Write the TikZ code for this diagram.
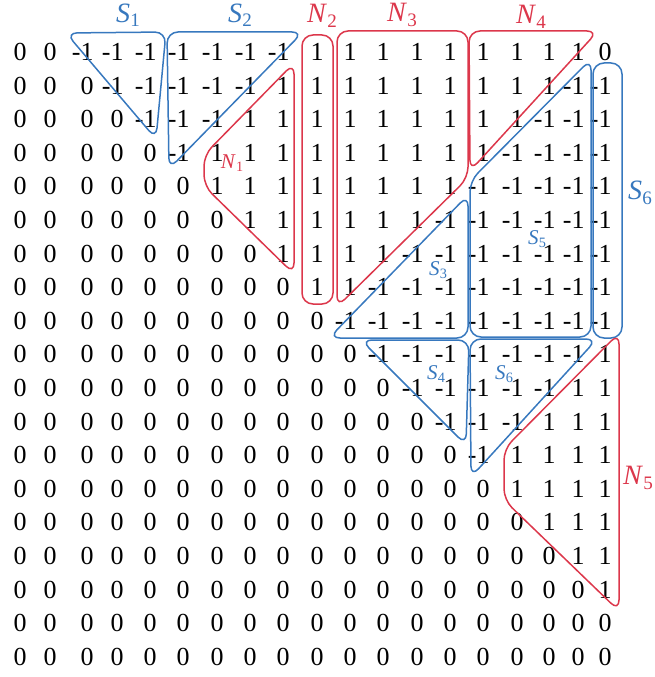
\documentclass[tikz,border=0pt]{standalone}
\usepackage{fontspec}
\setmainfont{Liberation Serif}
\definecolor{myblue}{RGB}{55,120,190}
\definecolor{myred}{RGB}{220,55,75}
\newcommand\mZ{0}
\newcommand\mM{\llap{-}1}
\newcommand\mP{1}
\newcommand\lab[2]{\textit{#1}\kern0.3pt\raisebox{-0.35ex}{\scalebox{0.68}{#2}}}
\begin{document}
\begin{tikzpicture}[x=1pt,y=-1pt,
  entry/.style={font=\fontsize{26}{30}\selectfont, inner sep=0pt, anchor=center},
  bluereg/.style={draw=myblue, line width=1.5pt, rounded corners=11pt},
  redreg/.style={draw=myred, line width=1.5pt, rounded corners=11pt},
  toplab/.style={font=\fontsize{28}{30}\selectfont, inner sep=0pt},
  inlab/.style={font=\fontsize{21}{24}\selectfont, inner sep=0pt}]
\useasboundingbox (0,0) rectangle (654,677);
\foreach \vals [count=\r] in {
 {\mZ,\mZ,\mM,\mM,\mM,\mM,\mM,\mM,\mM,\mP,\mP,\mP,\mP,\mP,\mP,\mP,\mP,\mP,\mZ},
 {\mZ,\mZ,\mZ,\mM,\mM,\mM,\mM,\mM,\mP,\mP,\mP,\mP,\mP,\mP,\mP,\mP,\mP,\mM,\mM},
 {\mZ,\mZ,\mZ,\mZ,\mM,\mM,\mM,\mP,\mP,\mP,\mP,\mP,\mP,\mP,\mP,\mP,\mM,\mM,\mM},
 {\mZ,\mZ,\mZ,\mZ,\mZ,\mM,\mP,\mP,\mP,\mP,\mP,\mP,\mP,\mP,\mP,\mM,\mM,\mM,\mM},
 {\mZ,\mZ,\mZ,\mZ,\mZ,\mZ,\mP,\mP,\mP,\mP,\mP,\mP,\mP,\mP,\mM,\mM,\mM,\mM,\mM},
 {\mZ,\mZ,\mZ,\mZ,\mZ,\mZ,\mZ,\mP,\mP,\mP,\mP,\mP,\mP,\mM,\mM,\mM,\mM,\mM,\mM},
 {\mZ,\mZ,\mZ,\mZ,\mZ,\mZ,\mZ,\mZ,\mP,\mP,\mP,\mP,\mM,\mM,\mM,\mM,\mM,\mM,\mM},
 {\mZ,\mZ,\mZ,\mZ,\mZ,\mZ,\mZ,\mZ,\mZ,\mP,\mP,\mM,\mM,\mM,\mM,\mM,\mM,\mM,\mM},
 {\mZ,\mZ,\mZ,\mZ,\mZ,\mZ,\mZ,\mZ,\mZ,\mZ,\mM,\mM,\mM,\mM,\mM,\mM,\mM,\mM,\mM},
 {\mZ,\mZ,\mZ,\mZ,\mZ,\mZ,\mZ,\mZ,\mZ,\mZ,\mZ,\mM,\mM,\mM,\mM,\mM,\mM,\mM,\mP},
 {\mZ,\mZ,\mZ,\mZ,\mZ,\mZ,\mZ,\mZ,\mZ,\mZ,\mZ,\mZ,\mM,\mM,\mM,\mM,\mM,\mP,\mP},
 {\mZ,\mZ,\mZ,\mZ,\mZ,\mZ,\mZ,\mZ,\mZ,\mZ,\mZ,\mZ,\mZ,\mM,\mM,\mM,\mP,\mP,\mP},
 {\mZ,\mZ,\mZ,\mZ,\mZ,\mZ,\mZ,\mZ,\mZ,\mZ,\mZ,\mZ,\mZ,\mZ,\mM,\mP,\mP,\mP,\mP},
 {\mZ,\mZ,\mZ,\mZ,\mZ,\mZ,\mZ,\mZ,\mZ,\mZ,\mZ,\mZ,\mZ,\mZ,\mZ,\mP,\mP,\mP,\mP},
 {\mZ,\mZ,\mZ,\mZ,\mZ,\mZ,\mZ,\mZ,\mZ,\mZ,\mZ,\mZ,\mZ,\mZ,\mZ,\mZ,\mP,\mP,\mP},
 {\mZ,\mZ,\mZ,\mZ,\mZ,\mZ,\mZ,\mZ,\mZ,\mZ,\mZ,\mZ,\mZ,\mZ,\mZ,\mZ,\mZ,\mP,\mP},
 {\mZ,\mZ,\mZ,\mZ,\mZ,\mZ,\mZ,\mZ,\mZ,\mZ,\mZ,\mZ,\mZ,\mZ,\mZ,\mZ,\mZ,\mZ,\mP},
 {\mZ,\mZ,\mZ,\mZ,\mZ,\mZ,\mZ,\mZ,\mZ,\mZ,\mZ,\mZ,\mZ,\mZ,\mZ,\mZ,\mZ,\mZ,\mZ},
 {\mZ,\mZ,\mZ,\mZ,\mZ,\mZ,\mZ,\mZ,\mZ,\mZ,\mZ,\mZ,\mZ,\mZ,\mZ,\mZ,\mZ,\mZ,\mZ}}{
  \foreach \v [count=\c] in \vals {
    \pgfmathsetmacro{\xx}{{20,50,87,117,150,183,217,250,283,317,350,383,417,450,483,517,549,578,605}[\c-1]}
    \pgfmathsetmacro{\yy}{52+(\r-1)*33.6}
    \node[entry] (e\r-\c) at (\xx,\yy) {\v};
  }
}
% regions
\draw[bluereg] (66,33) -- (166,32) -- (156,139) -- cycle;   % S1
\draw[bluereg] (167,32) -- (303,32) -- (169,169) -- cycle;  % S2
\draw[redreg] (294,63) -- (294,274) -- (204,186) -- (204,155) -- cycle; % N1
\draw[redreg] (302,35) rectangle (333,304); % N2
\draw[redreg] (337,31) -- (468,31) -- (468,178) -- (337,307) -- cycle; % N3
\draw[redreg] (469,31) -- (598,31) -- (470,171) -- cycle; % N4
\draw[bluereg] (591,59) -- (591,337) -- (470,337) -- (470,181) -- cycle; % S5
\draw[bluereg] (593,63) rectangle (622,338); % S6 right
\draw[bluereg] (468,195) -- (468,338) -- (329,338) -- cycle; % S3
\draw[bluereg] (361,340) -- (469,340) -- (466,445) -- cycle; % S4
\draw[bluereg] (470,339) -- (597,339) -- (471,477) -- cycle; % S6 lower
\draw[redreg] (619,333) -- (619,611) -- (504,500) -- (504,449) -- cycle; % N5
% labels
\node[toplab, text=myblue] (lS1) at (128,15) {\lab{S}{1}};
\node[toplab, text=myblue] (lS2) at (240,15) {\lab{S}{2}};
\node[toplab, text=myred] (lN2) at (322,16) {\lab{N}{2}};
\node[toplab, text=myred] (lN3) at (402,15) {\lab{N}{3}};
\node[toplab, text=myred] (lN4) at (531,17) {\lab{N}{4}};
\node[toplab, text=myblue] (lS6r) at (640,193) {\lab{S}{6}};
\node[toplab, text=myred] (lN5) at (638,478) {\lab{N}{5}};
\node[inlab, text=myred] (lN1) at (232,163) {\lab{N}{1}};
\node[inlab, text=myblue] (lS3) at (438,270) {\lab{S}{3}};
\node[inlab, text=myblue] (lS5) at (537,239) {\lab{S}{5}};
\node[inlab, text=myblue] (lS4) at (436,374) {\lab{S}{4}};
\node[inlab, text=myblue] (lS6) at (504,374) {\lab{S}{6}};
\end{tikzpicture}
\end{document}
